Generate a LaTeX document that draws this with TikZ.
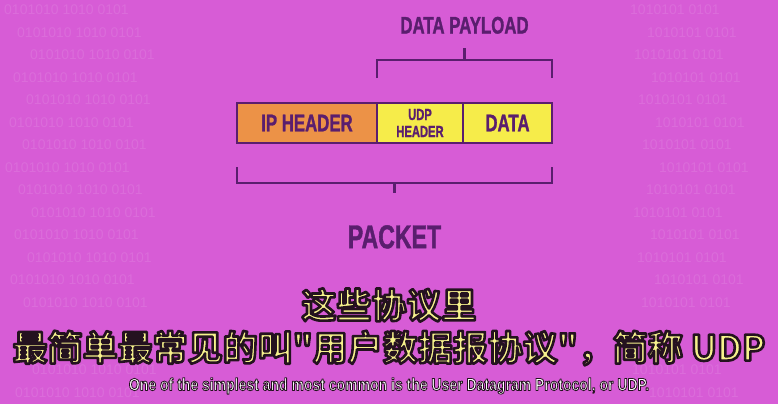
\documentclass[tikz,border=0pt]{standalone}
\usepackage{fontspec}
\usetikzlibrary{positioning,calc}

\setmainfont{Liberation Sans}
\newfontfamily\headfont[FakeStretch=0.7,FakeBold=1.2]{Liberation Sans Bold}
\newfontfamily\subfont[FakeStretch=0.8]{Liberation Sans Bold}
\newfontfamily\cjk{Noto Sans CJK SC Bold}

\definecolor{bgpink}{HTML}{D75CD6}
\definecolor{ink}{HTML}{5A1E6E}
\definecolor{iporange}{HTML}{EC9247}
\definecolor{udpyellow}{HTML}{F6EC4A}
\definecolor{subyellow}{HTML}{F6F28C}

% outlined subtitle text (fill + stroke render mode)
\newcommand\rimtext[3]{%
  {\color{#2}\special{pdf:literal direct 0.14 0.07 0.12 RG 2 Tr #1 w 1 j}#3%
   \special{pdf:literal direct 0 Tr 0.4 w}}}

\begin{document}
\begin{tikzpicture}[x=1pt,y=-1pt,
    cell/.style={draw=ink,line width=2.5pt,minimum height=40pt,inner sep=0pt,outer sep=0pt,
      text=ink,font=\headfont\fontsize{24}{24}\selectfont},
    bracket/.style={draw=ink,line width=2.6pt},
    bigword/.style={text=ink,inner sep=0pt,font=\headfont\fontsize{#1}{#1}\selectfont},
    bits/.style={anchor=west,text=white,opacity=0.1,inner sep=0pt,
      font=\fontsize{14}{14}\selectfont}]

  \useasboundingbox (0,0) rectangle (778,404);
  \fill[bgpink] (0,0) rectangle (778,404);

  % faint binary rows, left and right of the diagram
  \foreach \row in {0,...,13,16,17} {
    \node[bits] (bitsl\row) at ({4+mod(\row*13,30)}, 10+\row*22.5) {0101010 1010 0101};
    \node[bits] (bitsr\row) at ({630+mod(\row*17,30)}, 10+\row*22.5) {1010101 0101};
  }

  % the packet
  \node[cell,fill=iporange,minimum width=140pt,anchor=north west] (ipcell) at (237,103) {IP HEADER};
  \node[cell,fill=udpyellow,minimum width=86pt,align=center,right=0pt of ipcell,
        font=\headfont\fontsize{16}{17}\selectfont] (udpcell) {UDP\\HEADER};
  \node[cell,fill=udpyellow,minimum width=89pt,right=0pt of udpcell] (datacell) {DATA};

  % payload bracket
  \draw[bracket] ([yshift=25pt]udpcell.north west) -- ([yshift=43pt]udpcell.north west)
    -- ([yshift=43pt]datacell.north east) -- ([yshift=25pt]datacell.north east);
  \coordinate (paymid) at ($([yshift=43pt]udpcell.north west)!0.5!([yshift=43pt]datacell.north east)$);
  \coordinate (paytop) at ([yshift=12pt]paymid);
  \draw[bracket] (paymid) -- (paytop);
  \node[bigword=24,above=14pt of paytop] (paylabel) {DATA PAYLOAD};

  % packet bracket
  \draw[bracket] ([yshift=-24pt]ipcell.south west) -- ([yshift=-40pt]ipcell.south west)
    -- ([yshift=-40pt]datacell.south east) -- ([yshift=-24pt]datacell.south east);
  \coordinate (pktmid) at ($([yshift=-40pt]ipcell.south west)!0.5!([yshift=-40pt]datacell.south east)$);
  \coordinate (pktfoot) at ([yshift=-10pt]pktmid);
  \draw[bracket] (pktmid) -- (pktfoot);
  \node[bigword=33,below=32pt of pktfoot] (pktlabel) {PACKET};

  % subtitles
  \node[inner sep=0pt,font=\cjk\fontsize{35}{35}\selectfont] (subone) at (389,305)
    {\rimtext{2.6}{subyellow}{这些协议里}};
  \node[inner sep=0pt,font=\cjk\fontsize{35}{35}\selectfont] (subtwo) at (389,348)
    {\rimtext{2.6}{subyellow}{最简单最常见的叫"用户数据报协议"，简称 UDP}};
  \node[inner sep=0pt,font=\subfont\fontsize{17.5}{17.5}\selectfont] (subeng) at (389,386)
    {\rimtext{0.8}{white}{One of the simplest and most common is the User Datagram Protocol, or UDP.}};
\end{tikzpicture}
\end{document}
